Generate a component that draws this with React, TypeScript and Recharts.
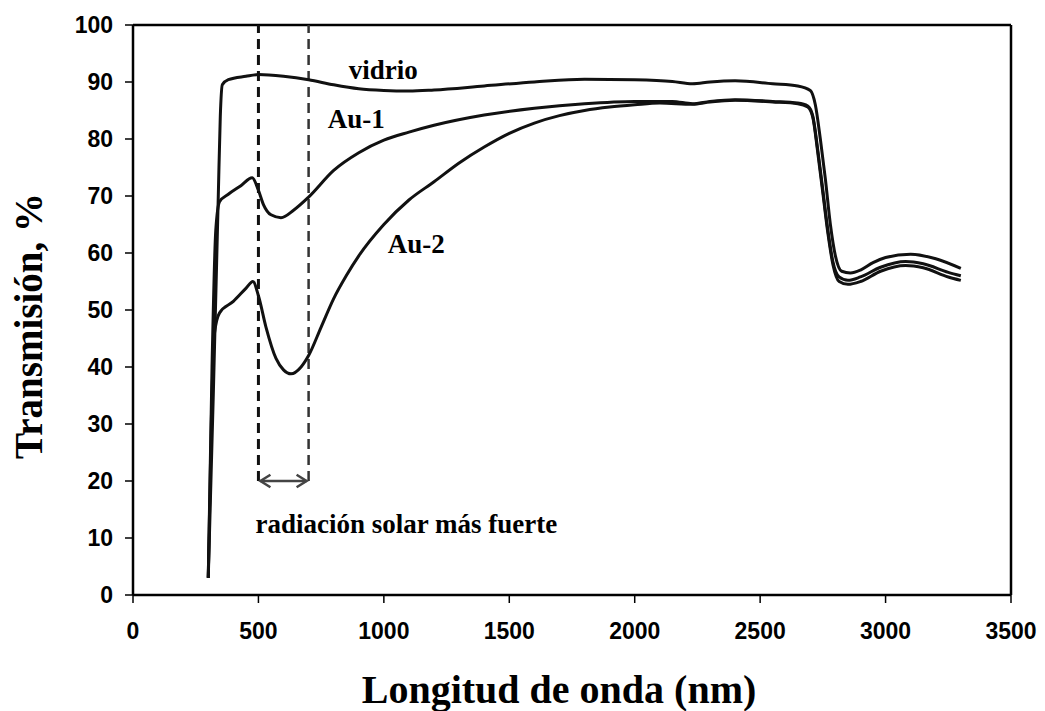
import React from 'react';
import {
    LineChart,
    Line,
    XAxis,
    YAxis,
    ReferenceLine,
    ReferenceDot,
    Label,
} from 'recharts';

const SANS = '"Liberation Sans", Arial, sans-serif';
const SERIF = '"Liberation Serif", "Times New Roman", serif';

// wavelength (nm) / transmission (%)
const vidrioNm = [300, 320, 340, 348, 356, 380, 450, 500, 600, 700, 800, 900, 1000, 1100, 1200, 1400, 1600, 1800, 2000, 2150, 2230, 2300, 2400, 2550, 2650, 2700, 2720, 2740, 2760, 2780, 2800, 2825, 2860, 2900, 2950, 3000, 3100, 3200, 3300];
const vidrioT = [3, 35, 70, 84, 89.5, 90.4, 91, 91.3, 91, 90.4, 89.5, 88.8, 88.5, 88.4, 88.6, 89.3, 90, 90.5, 90.4, 90.1, 89.7, 90, 90.2, 89.7, 89.3, 88.5, 86, 80, 73, 65, 59.5, 56.8, 56.5, 57, 58.3, 59.2, 59.8, 59, 57.3];

const au1Nm = [300, 315, 330, 345, 380, 430, 475, 500, 520, 550, 590, 640, 700, 800, 900, 1000, 1100, 1200, 1400, 1600, 1800, 2000, 2150, 2230, 2300, 2400, 2550, 2650, 2690, 2710, 2730, 2750, 2770, 2790, 2815, 2850, 2900, 2980, 3080, 3150, 3250, 3300];
const au1T = [3, 40, 64, 69, 70.3, 71.8, 73.2, 71, 68.5, 66.7, 66.2, 67.5, 69.8, 74.5, 77.6, 79.8, 81.2, 82.4, 84.2, 85.4, 86.2, 86.6, 86.6, 86.2, 86.6, 86.9, 86.6, 86.3, 85.8, 84, 78, 71, 64, 58.5, 55.8, 55.2, 55.8, 57.5, 58.5, 58.1, 56.6, 56];

const au2Nm = [300, 312, 325, 345, 400, 450, 478, 500, 530, 570, 600, 630, 670, 700, 750, 800, 850, 900, 1000, 1100, 1200, 1300, 1400, 1500, 1600, 1700, 1800, 1900, 2000, 2100, 2230, 2300, 2400, 2550, 2650, 2690, 2710, 2730, 2750, 2770, 2790, 2815, 2850, 2900, 2980, 3080, 3150, 3250, 3300];
const au2T = [3, 30, 46, 49.5, 51.5, 53.8, 55, 52.5, 47, 41.5, 39.5, 38.8, 40, 42, 47, 52, 56, 59.5, 65, 69.3, 72.5, 75.8, 78.6, 81, 82.8, 84.1, 85, 85.6, 86, 86.3, 86.1, 86.5, 86.8, 86.5, 86.2, 85.6, 83.8, 77.5, 70.5, 63.5, 58, 55, 54.5, 55, 56.8, 57.8, 57.4, 55.8, 55.2];

const xTicks = [0, 500, 1000, 1500, 2000, 2500, 3000, 3500];
const yTicks = [0, 10, 20, 30, 40, 50, 60, 70, 80, 90, 100];

// band of strongest solar radiation
const bandStart = 500;
const bandEnd = 700;
const bandLow = 20;

const toPoints = (nm: number[], t: number[]) => nm.map((x, i) => ({ x, y: t[i] }));

const vidrio = toPoints(vidrioNm, vidrioT);
const au1 = toPoints(au1Nm, au1T);
const au2 = toPoints(au2Nm, au2T);

const YTitle = ({ viewBox }: any) => {
    const cx = 42;
    const cy = viewBox.y + viewBox.height / 2 + 16;
    return (
        <text
            x={cx}
            y={cy}
            transform={`rotate(-90 ${cx} ${cy})`}
            textAnchor="middle"
            fontFamily={SERIF}
            fontWeight="bold"
            fontSize={39}
            fill="#000"
        >
            Transmisión, %
        </text>
    );
};

const XTitle = ({ viewBox }: any) => (
    <text
        x={viewBox.x + viewBox.width / 2 - 13}
        y={703}
        textAnchor="middle"
        fontFamily={SERIF}
        fontWeight="bold"
        fontSize={40}
        fill="#000"
    >
        Longitud de onda (nm)
    </text>
);

const note = (value: string) => (p: any) => (
    <text x={p.cx} y={p.cy} fontFamily={SERIF} fontWeight="bold" fontSize={27} fill="#000">
        {value}
    </text>
);

const DoubleArrow = (p: any) => {
    const { x1, y1, x2 } = p;
    const h = 9;
    return (
        <g stroke="#444" strokeWidth={2.5} fill="none">
            <line x1={x1 + 2} y1={y1} x2={x2 - 2} y2={y1} />
            <polyline points={`${x1 + h + 3},${y1 - h * 0.7} ${x1 + 2},${y1} ${x1 + h + 3},${y1 + h * 0.7}`} />
            <polyline points={`${x2 - h - 3},${y1 - h * 0.7} ${x2 - 2},${y1} ${x2 - h - 3},${y1 + h * 0.7}`} />
        </g>
    );
};

export default function App() {
    return (
        <div style={{ position: 'absolute', left: 0, top: 0, background: '#fff' }}>
            <LineChart width={1045} height={711} margin={{ top: 25, right: 34, left: 0, bottom: 0 }}>
                <XAxis
                    dataKey="x"
                    type="number"
                    domain={[0, 3500]}
                    ticks={xTicks}
                    tickSize={8}
                    tickMargin={20}
                    axisLine={{ stroke: '#000', strokeWidth: 2.5 }}
                    tickLine={{ stroke: '#000', strokeWidth: 1.5 }}
                    tick={{ fill: '#000', fontSize: 23, fontFamily: SANS, fontWeight: 'bold' }}
                    height={116}
                >
                    <Label content={<XTitle />} />
                </XAxis>
                <YAxis
                    type="number"
                    domain={[0, 100]}
                    ticks={yTicks}
                    width={133}
                    tickSize={8}
                    tickMargin={12}
                    axisLine={{ stroke: '#000', strokeWidth: 2.5 }}
                    tickLine={{ stroke: '#000', strokeWidth: 1.5 }}
                    tick={{ fill: '#000', fontSize: 23, fontFamily: SANS, fontWeight: 'bold' }}
                >
                    <Label content={<YTitle />} />
                </YAxis>

                <ReferenceLine y={100} stroke="#000" strokeWidth={2.5} />
                <ReferenceLine x={3500} stroke="#000" strokeWidth={2.5} />

                <ReferenceLine
                    segment={[{ x: bandStart, y: bandLow }, { x: bandStart, y: 100 }]}
                    stroke="#111"
                    strokeWidth={3}
                    strokeDasharray="10 6"
                />
                <ReferenceLine
                    segment={[{ x: bandEnd, y: bandLow }, { x: bandEnd, y: 100 }]}
                    stroke="#333"
                    strokeWidth={2.5}
                    strokeDasharray="10 6"
                />
                <ReferenceLine
                    segment={[{ x: bandStart, y: bandLow }, { x: bandEnd, y: bandLow }]}
                    shape={DoubleArrow}
                />

                <Line data={vidrio} dataKey="y" type="monotone" stroke="#111" strokeWidth={3} dot={false} isAnimationActive={false} />
                <Line data={au1} dataKey="y" type="monotone" stroke="#111" strokeWidth={3} dot={false} isAnimationActive={false} />
                <Line data={au2} dataKey="y" type="monotone" stroke="#111" strokeWidth={3} dot={false} isAnimationActive={false} />

                <ReferenceDot x={860} y={90.5} r={0} shape={note('vidrio')} />
                <ReferenceDot x={776} y={81.9} r={0} shape={note('Au-1')} />
                <ReferenceDot x={1016} y={60} r={0} shape={note('Au-2')} />
                <ReferenceDot x={488} y={10.9} r={0} shape={note('radiación solar más fuerte')} />
            </LineChart>
        </div>
    );
}
